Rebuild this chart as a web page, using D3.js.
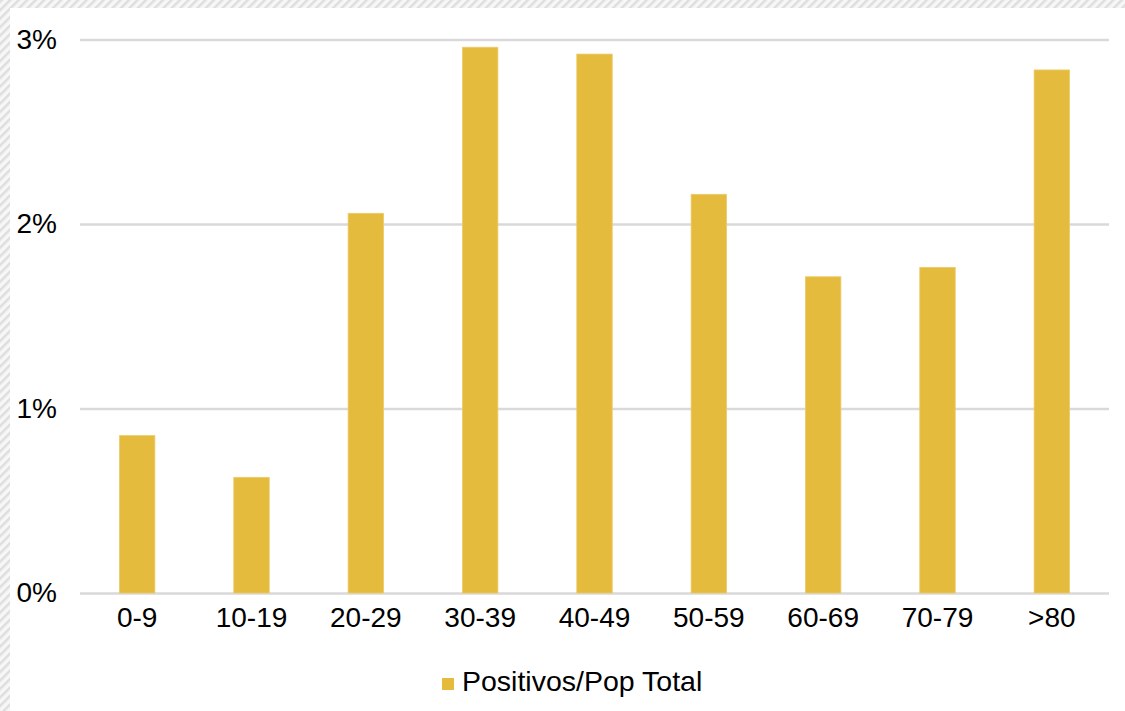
<!DOCTYPE html>
<html>
<head>
<meta charset="utf-8">
<script src="https://cdn.jsdelivr.net/npm/d3@7"></script>
<style>
  html, body { margin: 0; padding: 0; background: #fff; }
  svg { display: block; }
  text { font-family: "Liberation Sans", Arial, Helvetica, sans-serif; fill: #000; }
</style>
</head>
<body>
<svg id="chart" width="1125" height="711"></svg>
<script>
const categories = ["0-9", "10-19", "20-29", "30-39", "40-49", "50-59", "60-69", "70-79", ">80"];
const values = [0.853, 0.627, 2.058, 2.958, 2.921, 2.161, 1.714, 1.765, 2.835];
const yTicks = [0, 1, 2, 3];
const seriesName = "Positivos/Pop Total";

const W = 1125, H = 711;
const svg = d3.select("#chart");

// hatched frame
const defs = svg.append("defs");
const pat = defs.append("pattern")
  .attr("id", "hatch").attr("patternUnits", "userSpaceOnUse")
  .attr("width", 6).attr("height", 6)
  .attr("patternTransform", "rotate(45)");
pat.append("rect").attr("width", 6).attr("height", 6).attr("fill", "#f7f7f7");
pat.append("rect").attr("width", 2.5).attr("height", 6).attr("fill", "#dedede");
svg.append("rect").attr("width", W).attr("height", H).attr("fill", "url(#hatch)");
svg.append("rect").attr("x", 10).attr("y", 8).attr("width", W - 10).attr("height", H - 8).attr("fill", "#fff");

const mLeft = 80, mRight = 1109, mTop = 39.5, mBottom = 593;

const x = d3.scaleBand().domain(categories).range([mLeft, mRight])
  .paddingInner(0.69).paddingOuter(0.345);
const y = d3.scaleLinear().domain([0, 3]).range([mBottom, mTop]);

// gridlines
const yAxis = d3.axisLeft(y).tickValues(yTicks).tickFormat(d => d + "%")
  .tickSize(-(mRight - mLeft)).tickPadding(23);
const gy = svg.append("g").attr("transform", `translate(${mLeft},0)`).call(yAxis);
gy.select(".domain").remove();
gy.selectAll(".tick line").attr("stroke", "#d9d9d9").attr("stroke-width", 2.5);
gy.selectAll(".tick text").attr("font-size", 28).attr("fill", "#111")
  .attr("font-family", "Liberation Sans, Arial, sans-serif");

// bars
svg.append("g").selectAll("rect").data(values).join("rect")
  .attr("x", (d, i) => x(categories[i]))
  .attr("y", d => y(d))
  .attr("width", x.bandwidth())
  .attr("height", d => y(0) - y(d))
  .attr("fill", "#e5bb3d")
  .attr("stroke", "#eccb6a").attr("stroke-width", 0.8);

// x axis
const xAxis = d3.axisBottom(x).tickSize(0).tickPadding(14);
const gx = svg.append("g").attr("transform", `translate(0,${mBottom})`).call(xAxis);
gx.select(".domain").remove();
gx.selectAll(".tick text").attr("font-size", 28).attr("fill", "#111")
  .attr("font-family", "Liberation Sans, Arial, sans-serif");

// legend
const lg = svg.append("g").attr("transform", "translate(442,678)");
lg.append("rect").attr("width", 12).attr("height", 12).attr("fill", "#e5bb3d");
lg.append("text").attr("x", 20).attr("y", 12.5).attr("font-size", 28.5).attr("fill", "#111").text(seriesName);
</script>
</body>
</html>
